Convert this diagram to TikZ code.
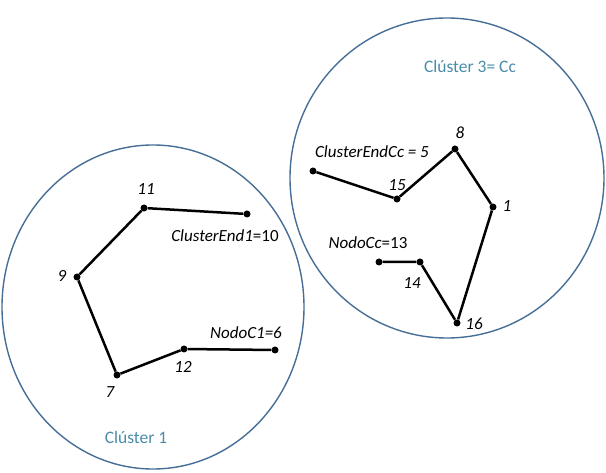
\documentclass[tikz,border=0pt]{standalone}
\usepackage{fontspec}
\setmainfont{Carlito}
\begin{document}
\begin{tikzpicture}[x=1pt,y=-1pt,
  clus/.style={draw={rgb,255:red,70;green,110;blue,150},line width=1.4pt},
  pt/.style={circle,fill=black,inner sep=0pt,minimum size=7pt},
  edge/.style={line width=2.5pt,black},
  lab/.style={font=\fontsize{17}{19}\selectfont\itshape,inner sep=0pt},
  title/.style={font=\fontsize{17.5}{19}\selectfont,text={rgb,255:red,75;green,140;blue,170},inner sep=0pt}]
\useasboundingbox (0,0) rectangle (606,473);
\draw[clus] (153,307) ellipse [x radius=151, y radius=162];
\draw[clus] (447,178) ellipse [x radius=157, y radius=160];
% left cluster
\node[pt] (n11) at (144,208) {};
\node[pt] (n10) at (247,214) {};
\node[pt] (n9) at (77,277) {};
\node[pt] (n7) at (117,375) {};
\node[pt] (n12) at (184,349) {};
\node[pt] (n6) at (275,350) {};
\draw[edge] (n10) -- (n11) -- (n9) -- (n7) -- (n12) -- (n6);
\node[lab] (l11) at (146,189) {11};
\node[lab] (l10) at (225,236) {ClusterEnd1\upshape=10};
\node[lab] (l9) at (62,276) {9};
\node[lab] (l7) at (110,392) {7};
\node[lab] (l12) at (183,367) {12};
\node[lab] (l6) at (246,333) {NodoC1=6};
\node[title] (c1) at (136,437) {Clúster 1};
% right cluster
\node[pt] (n5) at (313,171) {};
\node[pt] (n15) at (397,199) {};
\node[pt] (n8) at (455,149) {};
\node[pt] (n1) at (493,207) {};
\node[pt] (n16) at (457,323) {};
\node[pt] (n14) at (420,262) {};
\node[pt] (n13) at (379,262) {};
\draw[edge] (n5) -- (n15) -- (n8) -- (n1) -- (n16) -- (n14) -- (n13);
\node[lab] (l8) at (460,133) {8};
\node[lab] (l5) at (372,152) {ClusterEndCc = 5};
\node[lab] (l15) at (397,185) {15};
\node[lab] (l1) at (507,206) {1};
\node[lab] (l13) at (368,243) {NodoCc\upshape=13};
\node[lab] (l14) at (412,283) {14};
\node[lab] (l16) at (474,324) {16};
\node[title] (c3) at (470,66) {Clúster 3= Cc};
\end{tikzpicture}
\end{document}
